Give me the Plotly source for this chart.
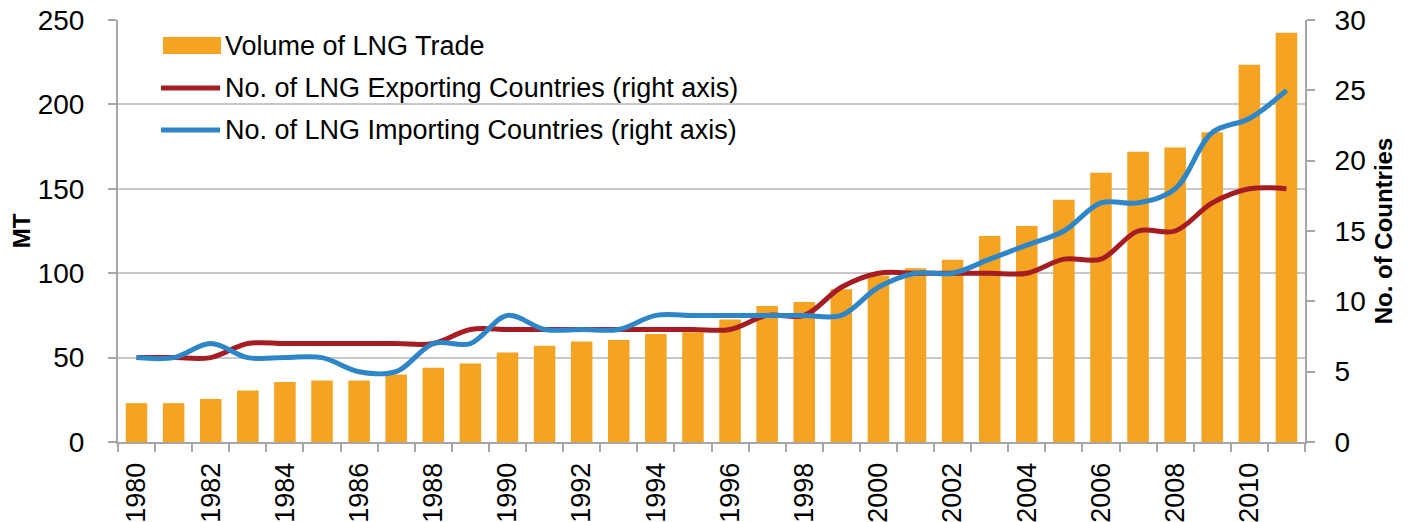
import plotly.graph_objects as go

# ---------------- data ----------------
years = list(range(1980, 2012))
lng_trade_mt = [23, 23, 25.5, 30.5, 35.5, 36.5, 36.5, 40, 44, 46.5,
                53, 57, 59.5, 60.5, 64, 65, 72.5, 80.5, 83, 90.5,
                98.5, 103, 108, 122, 128, 143.5, 159.5, 172, 174.5, 183.5,
                223.5, 242.5]
exporting_countries = [6, 6, 6, 7, 7, 7, 7, 7, 7, 8,
                       8, 8, 8, 8, 8, 8, 8, 9, 9, 11,
                       12, 12, 12, 12, 12, 13, 13, 15, 15, 17,
                       18, 18]
importing_countries = [6, 6, 7, 6, 6, 6, 5, 5, 7, 7,
                       9, 8, 8, 8, 9, 9, 9, 9, 9, 9,
                       11, 12, 12, 13, 14, 15, 17, 17, 18, 22,
                       23, 25]
x_tick_years = list(range(1980, 2011, 2))
left_ticks = [0, 50, 100, 150, 200, 250]
right_ticks = [0, 5, 10, 15, 20, 25, 30]

series_names = ["Volume of LNG Trade",
                "No. of LNG Exporting Countries (right axis)",
                "No. of LNG Importing Countries (right axis)"]

# ---------------- style ----------------
ORANGE = "#F4A322"
RED = "#A51D23"
BLUE = "#2E85C8"
GRID = "#C8C8C8"
AXIS = "#A6A6A6"
FONT = "Liberation Sans, Arial, sans-serif"

W, H = 1410, 522
L, R, T, B = 118, 105, 20, 80
PW, PH = W - L - R, H - T - B


def px(x):
    return (x - L) / PW


def py(y):
    return (H - B - y) / PH


fig = go.Figure()
fig.add_trace(go.Bar(x=years, y=lng_trade_mt, name=series_names[0],
                     marker=dict(color=ORANGE, line=dict(width=0)),
                     width=0.58, yaxis="y"))
fig.add_trace(go.Scatter(x=years, y=exporting_countries, name=series_names[1],
                         mode="lines", line=dict(color=RED, width=5, shape="spline", smoothing=1),
                         yaxis="y2"))
fig.add_trace(go.Scatter(x=years, y=importing_countries, name=series_names[2],
                         mode="lines", line=dict(color=BLUE, width=5, shape="spline", smoothing=1),
                         yaxis="y2"))

# custom legend (white box, swatches, real text)
shapes = [
    dict(type="rect", xref="paper", yref="paper", x0=px(150), x1=px(772), y0=py(150), y1=py(25),
         fillcolor="white", line=dict(width=0), layer="between"),
    dict(type="rect", xref="paper", yref="paper", x0=px(163), x1=px(221), y0=py(54), y1=py(37),
         fillcolor=ORANGE, line=dict(width=0), layer="above"),
    dict(type="line", xref="paper", yref="paper", x0=px(161), x1=px(220), y0=py(88), y1=py(88),
         line=dict(color=RED, width=5), layer="above"),
    dict(type="line", xref="paper", yref="paper", x0=px(161), x1=px(220), y0=py(130), y1=py(130),
         line=dict(color=BLUE, width=5), layer="above"),
]
annotations = []
for name, yy in zip(series_names, [46, 88, 130]):
    annotations.append(dict(text=name, xref="paper", yref="paper", x=px(223), y=py(yy),
                            xanchor="left", yanchor="middle", showarrow=False,
                            font=dict(family=FONT, size=27, color="black")))

fig.update_layout(
    width=W, height=H,
    margin=dict(l=L, r=R, t=T, b=B, pad=0, autoexpand=False),
    paper_bgcolor="white", plot_bgcolor="white",
    showlegend=False,
    bargap=0.42,
    font=dict(family=FONT, color="black"),
    shapes=shapes, annotations=annotations,
    xaxis=dict(
        range=[1979.5, 2011.5], tickmode="array", tickvals=x_tick_years,
        ticktext=[str(y) for y in x_tick_years], tickangle=-90, automargin=False,
        ticks="", showgrid=False, showline=True, linecolor=AXIS, linewidth=2,
        tickfont=dict(size=27, family=FONT), ticklabelstandoff=8,
        ticklabeloverflow="allow",
        minor=dict(tick0=1979.5, dtick=1, ticks="outside", ticklen=8,
                   tickcolor=AXIS, tickwidth=2, showgrid=False),
        zeroline=False,
    ),
    yaxis=dict(
        range=[0, 250], tickmode="array", tickvals=left_ticks, automargin=False,
        showgrid=True, gridcolor=GRID, gridwidth=2,
        showline=True, linecolor=AXIS, linewidth=2,
        ticks="outside", ticklen=8, tickcolor=AXIS, tickwidth=2,
        tickfont=dict(size=28, family=FONT), ticklabelstandoff=18,
        ticklabeloverflow="allow",
        zeroline=False,
        title=dict(text="<b>MT</b>", font=dict(size=24, family=FONT), standoff=0),
    ),
    yaxis2=dict(
        range=[0, 30], tickmode="array", tickvals=right_ticks, overlaying="y", side="right",
        automargin=False,
        showgrid=False, showline=True, linecolor=AXIS, linewidth=2,
        ticks="outside", ticklen=8, tickcolor=AXIS, tickwidth=2,
        tickfont=dict(size=28, family=FONT), ticklabelstandoff=14,
        ticklabeloverflow="allow",
        zeroline=False,
        title=dict(text="<b>No. of Countries</b>", font=dict(size=24, family=FONT), standoff=10),
    ),
)

fig.write_html("out.html", config={"displayModeBar": False},
               post_script="document.body.style.margin='0';")
